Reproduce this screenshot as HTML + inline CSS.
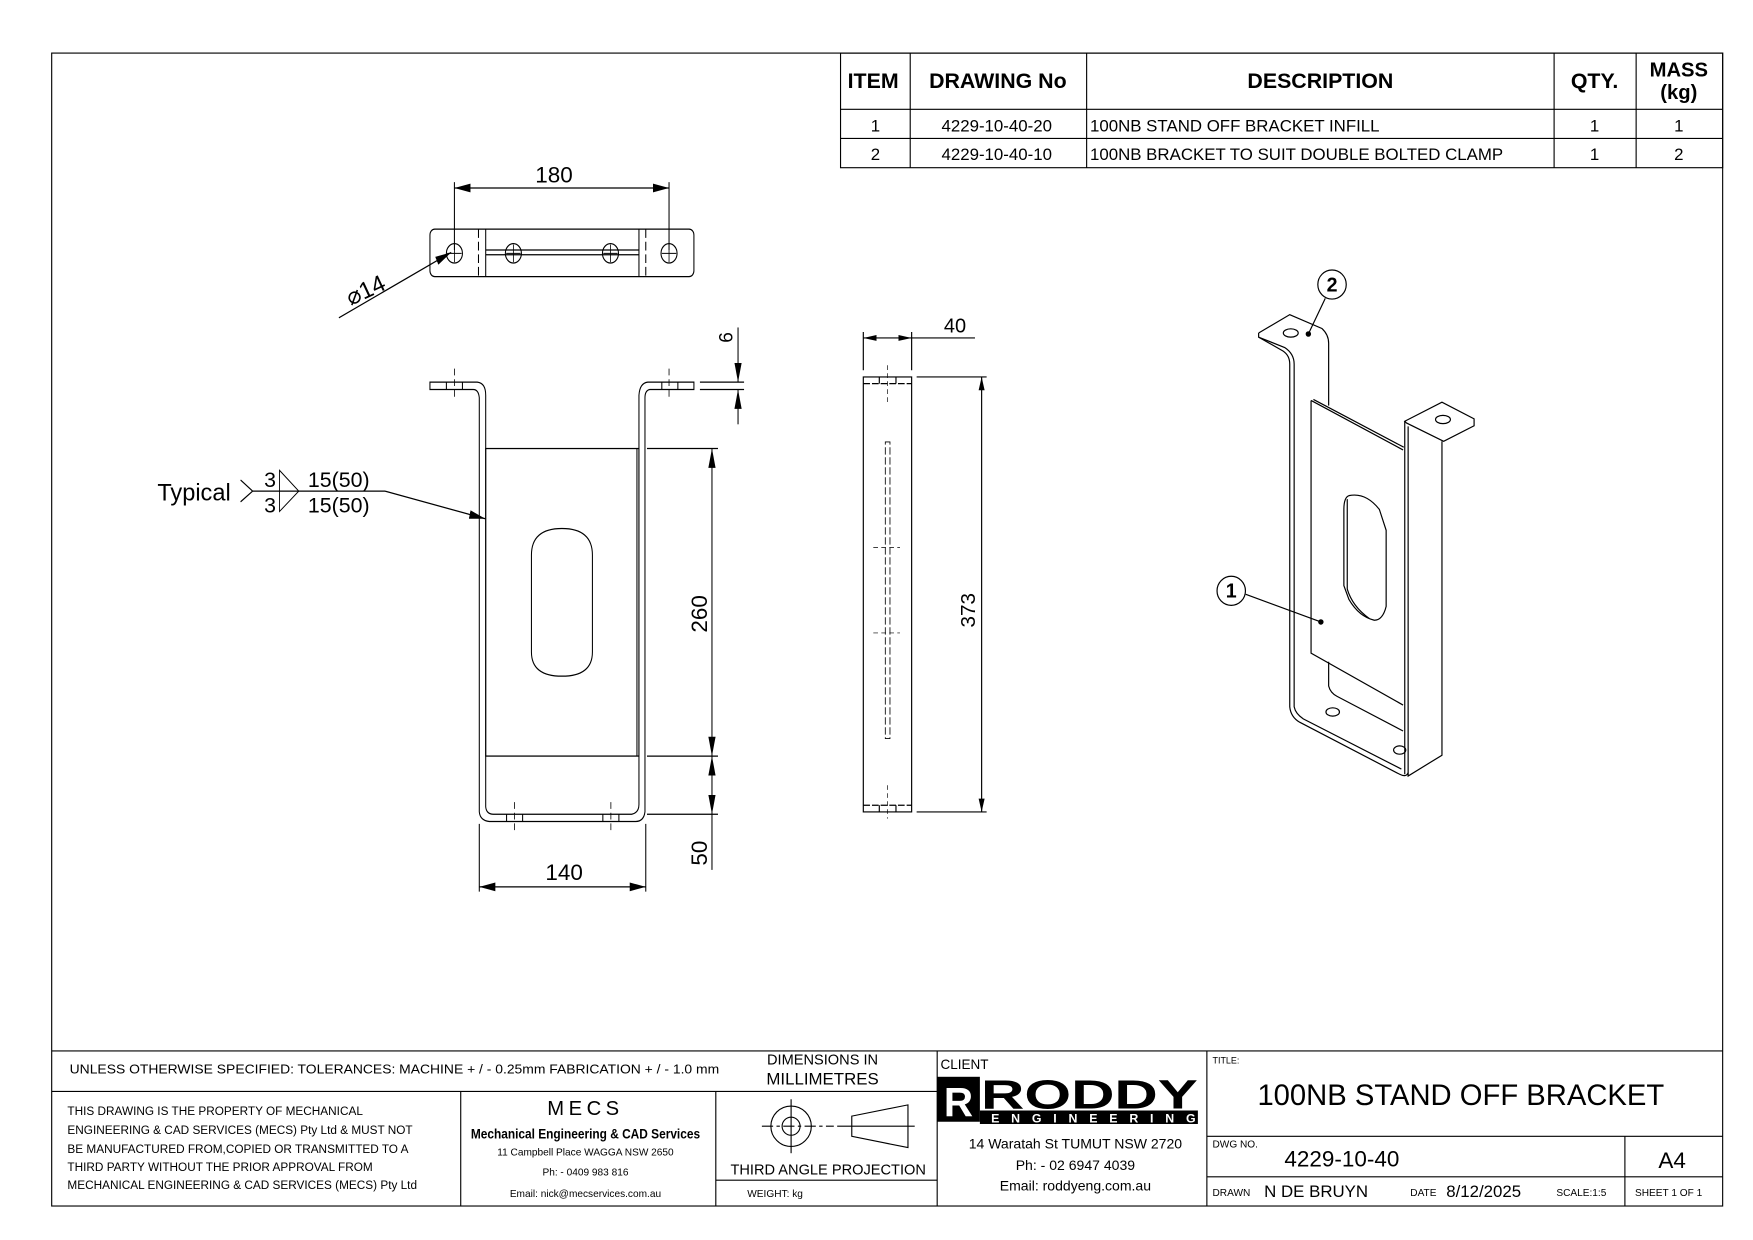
<!DOCTYPE html>
<html><head><meta charset="utf-8"><style>
html,body{margin:0;padding:0;background:#fff;}
svg{display:block;}
text{font-family:"Liberation Sans",sans-serif;fill:#000;}
</style></head><body>
<svg width="1753" height="1240" viewBox="0 0 1560 1103" xmlns="http://www.w3.org/2000/svg">
<defs>
<marker id="z" markerUnits="userSpaceOnUse" markerWidth="44" markerHeight="26" refX="40" refY="13" orient="auto-start-reverse" viewBox="0 0 44 26"><path d="M0,4 L40,13 L0,22 Z" fill="#000"/></marker>
</defs>
<g fill="none" stroke="#000" stroke-width="1">
<rect x="46" y="47" width="1487" height="1026"/>
<rect x="748" y="47" width="785" height="102"/>
<line x1="748" y1="97" x2="1533" y2="97"/>
<line x1="748" y1="123" x2="1533" y2="123"/>
<line x1="810" y1="47" x2="810" y2="149"/>
<line x1="967" y1="47" x2="967" y2="149"/>
<line x1="1383" y1="47" x2="1383" y2="149"/>
<line x1="1456" y1="47" x2="1456" y2="149"/>
<line x1="46" y1="935" x2="1533" y2="935"/>
<line x1="46" y1="971" x2="834" y2="971"/>
<line x1="410" y1="971" x2="410" y2="1073"/>
<line x1="637" y1="971" x2="637" y2="1073"/>
<line x1="637" y1="1050" x2="834" y2="1050"/>
<line x1="834" y1="935" x2="834" y2="1073"/>
<line x1="1074" y1="935" x2="1074" y2="1073"/>
<line x1="1074" y1="1011" x2="1533" y2="1011"/>
<line x1="1074" y1="1047" x2="1533" y2="1047"/>
<line x1="1446" y1="1011" x2="1446" y2="1073"/>
<circle cx="704" cy="1002" r="18"/><circle cx="704" cy="1002" r="8"/>
<line x1="678" y1="1002" x2="742" y2="1002" stroke-dasharray="10,3,3,3"/>
<line x1="704" y1="978" x2="704" y2="1026"/>
<path d="M758,993 L808,983 L808,1021 L758,1011 Z"/>
<line x1="745" y1="1002" x2="814" y2="1002"/>
</g>
<g font-weight="bold" font-size="19" text-anchor="middle">
<text x="777" y="78">ITEM</text><text x="888" y="78">DRAWING No</text><text x="1175" y="78">DESCRIPTION</text><text x="1419" y="78">QTY.</text>
<text x="1494" y="68" font-size="18">MASS</text><text x="1494" y="88" font-size="18">(kg)</text>
</g>
<g font-size="15" text-anchor="middle">
<text x="779" y="117">1</text><text x="887" y="117">4229-10-40-20</text><text x="1419" y="117">1</text><text x="1494" y="117">1</text>
<text x="779" y="142">2</text><text x="887" y="142">4229-10-40-10</text><text x="1419" y="142">1</text><text x="1494" y="142">2</text>
</g>
<text x="970" y="117" font-size="15">100NB STAND OFF BRACKET INFILL</text>
<text x="970" y="142" font-size="15">100NB BRACKET TO SUIT DOUBLE BOLTED CLAMP</text>
<text x="62" y="955" font-size="11.5" textLength="578" lengthAdjust="spacingAndGlyphs">UNLESS OTHERWISE SPECIFIED: TOLERANCES: MACHINE + / - 0.25mm  FABRICATION + / - 1.0 mm</text>
<text x="732" y="947" font-size="13" text-anchor="middle">DIMENSIONS IN</text>
<text x="732" y="965" font-size="15" text-anchor="middle">MILLIMETRES</text>
<g font-size="10.5">
<text x="60" y="992">THIS DRAWING IS THE PROPERTY OF MECHANICAL</text>
<text x="60" y="1009">ENGINEERING &amp; CAD SERVICES (MECS) Pty Ltd &amp; MUST NOT</text>
<text x="60" y="1026">BE MANUFACTURED FROM,COPIED OR TRANSMITTED TO A</text>
<text x="60" y="1042">THIRD PARTY WITHOUT THE PRIOR APPROVAL FROM</text>
<text x="60" y="1058">MECHANICAL ENGINEERING &amp; CAD SERVICES (MECS) Pty Ltd</text>
</g>
<g text-anchor="middle">
<text x="521" y="992" font-size="18" letter-spacing="4">MECS</text>
<text x="419" y="1013" font-size="12" font-weight="bold" text-anchor="start" textLength="204" lengthAdjust="spacingAndGlyphs">Mechanical Engineering &amp; CAD Services</text>
<text x="521" y="1028" font-size="9">11 Campbell Place WAGGA NSW 2650</text>
<text x="521" y="1046" font-size="9">Ph: - 0409 983 816</text>
<text x="521" y="1065" font-size="9">Email: nick@mecservices.com.au</text>
<text x="737" y="1045" font-size="13">THIRD ANGLE PROJECTION</text>
</g>
<text x="665" y="1065" font-size="9">WEIGHT: kg</text>
<text x="837" y="951" font-size="12">CLIENT</text>
<rect x="834" y="958" width="38" height="40" fill="#000"/>
<text x="853" y="993" font-size="36" font-weight="bold" text-anchor="middle" style="fill:#fff">R</text>
<text x="873" y="986" font-size="36" font-weight="bold" textLength="193" lengthAdjust="spacingAndGlyphs">RODDY</text>
<rect x="872" y="988" width="194" height="12" fill="#000"/>
<text x="882" y="998.5" font-size="11" font-weight="bold" textLength="182" lengthAdjust="spacing" style="fill:#fff">ENGINEERING</text>
<g text-anchor="middle" font-size="12.5">
<text x="957" y="1022">14 Waratah St TUMUT NSW 2720</text>
<text x="957" y="1041">Ph: - 02 6947 4039</text>
<text x="957" y="1059">Email: roddyeng.com.au</text>
</g>
<text x="1079" y="946" font-size="8">TITLE:</text>
<text x="1300" y="983" font-size="26" text-anchor="middle">100NB STAND OFF BRACKET</text>
<text x="1079" y="1021" font-size="9">DWG NO.</text>
<text x="1143" y="1038" font-size="20">4229-10-40</text>
<text x="1488" y="1039" font-size="20" text-anchor="middle">A4</text>
<text x="1079" y="1064" font-size="9">DRAWN</text>
<text x="1125" y="1065" font-size="15">N DE BRUYN</text>
<text x="1255" y="1064" font-size="9">DATE</text>
<text x="1287" y="1065" font-size="15">8/12/2025</text>
<text x="1385" y="1064" font-size="9">SCALE:1:5</text>
<text x="1455" y="1064" font-size="9">SHEET 1 OF 1</text>

<!-- Front + top views -->
<g transform="translate(119.5,136) scale(0.357,0.431)">
<g fill="none" stroke="#000" stroke-width="2.6">
<rect x="737" y="157" width="658" height="98" rx="12"/>
<line x1="858" y1="157" x2="858" y2="255" stroke-dasharray="18,8"/>
<line x1="876" y1="157" x2="876" y2="255"/>
<line x1="1258" y1="157" x2="1258" y2="255"/>
<line x1="1275" y1="157" x2="1275" y2="255" stroke-dasharray="18,8"/>
<path d="M876,200 L1258,200 M876,210 L1258,210"/>
<circle cx="798" cy="207" r="20"/><circle cx="945" cy="207" r="20"/><circle cx="1187" cy="207" r="20"/><circle cx="1333" cy="207" r="20"/>
<path d="M780,207h36M798,189v36M927,207h36M945,189v36M1169,207h36M1187,189v36M1315,207h36M1333,189v36" stroke-width="2"/>
<line x1="798" y1="60" x2="798" y2="200"/><line x1="1333" y1="60" x2="1333" y2="200"/>
<line x1="798" y1="72" x2="1333" y2="72" marker-start="url(#z)" marker-end="url(#z)"/>
<line x1="510" y1="340" x2="790" y2="205" marker-end="url(#z)"/>
<path d="M737,473 L855,473 Q876,475 876,500 L876,1350 Q878,1365 895,1365 L1240,1365 Q1258,1362 1258,1345 L1258,500 Q1260,475 1280,473 L1395,473 L1395,488 L1285,488 Q1273,490 1273,505 L1273,1360 Q1270,1380 1250,1380 L885,1380 Q862,1378 860,1360 L860,505 Q858,488 845,488 L737,488 Z"/>
<path d="M778,473v15M818,473v15M1315,473v15M1355,473v15M928,1365v15M968,1365v15M1168,1365v15M1208,1365v15"/>
<path d="M798,445v65M1333,445v65M948,1340v65M1188,1340v65" stroke-dasharray="14,8" stroke-width="2"/>
<rect x="876" y="610" width="382" height="635"/>
<line x1="1253" y1="610" x2="1253" y2="1245"/>
<path d="M990,830 Q990,775 1066,775 Q1142,775 1142,830 L1142,1030 Q1142,1080 1066,1080 Q990,1080 990,1030 Z"/>
<path d="M1278,610H1455M1278,1245H1455M1278,1365H1455"/>
<line x1="1440" y1="610" x2="1440" y2="1245" marker-start="url(#z)" marker-end="url(#z)"/>
<line x1="1440" y1="1245" x2="1440" y2="1365" marker-start="url(#z)" marker-end="url(#z)"/>
<line x1="1440" y1="1365" x2="1440" y2="1480"/>
<path d="M860,1385V1525M1275,1385V1525"/>
<line x1="860" y1="1515" x2="1275" y2="1515" marker-start="url(#z)" marker-end="url(#z)"/>
<path d="M1410,473H1520M1410,488H1520"/>
<line x1="1505" y1="360" x2="1505" y2="473" marker-end="url(#z)"/>
<line x1="1505" y1="560" x2="1505" y2="488" marker-end="url(#z)"/>
<path d="M265,675 L295,698 L265,720 M295,698 H625"/>
<line x1="625" y1="698" x2="875" y2="755" marker-end="url(#z)"/>
<path d="M362,655 L410,698 L362,740 Z" stroke-width="2.2"/>
</g>
</g>
<g font-size="20">
<text x="493" y="162" text-anchor="middle">180</text>
<text transform="translate(312,272) rotate(-25)" font-size="21">⌀14</text>
<text x="502" y="783" text-anchor="middle">140</text>
<text transform="translate(629,546) rotate(-90)" text-anchor="middle">260</text>
<text transform="translate(629,759) rotate(-90)" text-anchor="middle">50</text>
<text transform="translate(652,300) rotate(-90)" text-anchor="middle" font-size="17">6</text>
<text x="140" y="445" font-size="21">Typical</text>
<text x="235" y="433" font-size="19">3</text><text x="235" y="456" font-size="19">3</text>
<text x="274" y="433" font-size="19">15(50)</text><text x="274" y="456" font-size="19">15(50)</text>
</g>

<!-- side view -->
<g transform="translate(747.5,267) scale(0.2966,0.2966)">
<g fill="none" stroke="#000" stroke-width="3.5">
<rect x="70" y="230" width="145" height="1305"/>
<path d="M70,250H215M70,1515H215" stroke-dasharray="20,6"/>
<path d="M118,230v20M168,230v20M118,1515v20M168,1515v20"/>
<path d="M143,195v110M143,1455v100M100,742h80M100,998h80" stroke-dasharray="14,10" stroke-width="2"/>
<rect x="136" y="425" width="14" height="890" stroke-dasharray="22,8" stroke-width="2.5"/>
<path d="M70,95V210M215,95V210"/>
<line x1="70" y1="113" x2="215" y2="113" marker-start="url(#z)" marker-end="url(#z)"/>
<line x1="215" y1="113" x2="405" y2="113"/>
<path d="M230,230H440M230,1535H440"/>
<line x1="425" y1="230" x2="425" y2="1535" marker-start="url(#z)" marker-end="url(#z)"/>
</g>
<text x="345" y="97" font-size="60" text-anchor="middle">40</text>
<text transform="translate(405,930) rotate(-90)" font-size="62" text-anchor="middle">373</text>
</g>

<!-- iso view -->
<g transform="translate(1071,231.4) scale(0.301,0.308)">
<g fill="none" stroke="#000" stroke-width="3.5">
<path d="M163,210 L255,157 L350,197 Q370,215 370,240 L370,420"/>
<path d="M163,210 L163,222 L235,262 Q255,275 255,300 L255,1290 Q258,1320 285,1335 L580,1485 Q600,1495 605,1480"/>
<path d="M163,222 L240,252 Q268,270 268,300 L268,1290 Q272,1310 295,1325 L585,1470"/>
<path d="M595,465 L705,410 L800,458 L800,478 L710,523 L600,470 Z"/>
<path d="M605,480 L605,1490 L705,1430 L705,523"/>
<path d="M595,465 L595,1485"/>
<path d="M318,405 L318,1135 L590,1285"/>
<path d="M318,405 L590,548 M325,402 L592,540"/>
<path d="M430,680 Q480,670 520,720 L540,780 L540,1000 Q530,1040 505,1040 Q460,1030 430,980 L415,940 L415,720 Q415,685 430,680 Z"/>
<path d="M425,690 L425,950 Q440,1000 490,1035"/>
<path d="M370,1160 L370,1230 Q375,1250 395,1260 L590,1360"/>
<ellipse cx="258" cy="210" rx="22" ry="12"/>
<ellipse cx="708" cy="460" rx="22" ry="12"/>
<ellipse cx="382" cy="1305" rx="20" ry="12"/>
<ellipse cx="580" cy="1415" rx="18" ry="12"/>
<circle cx="380" cy="70" r="42"/>
<circle cx="82" cy="955" r="42"/>
<path d="M360,110 L310,213 M125,965 L347,1045"/>
</g>
<circle cx="310" cy="213" r="8" fill="#000"/>
<circle cx="347" cy="1045" r="8" fill="#000"/>
<text x="380" y="90" font-size="58" font-weight="bold" text-anchor="middle">2</text>
<text x="82" y="975" font-size="58" font-weight="bold" text-anchor="middle">1</text>
</g>
</svg>
</body></html>
